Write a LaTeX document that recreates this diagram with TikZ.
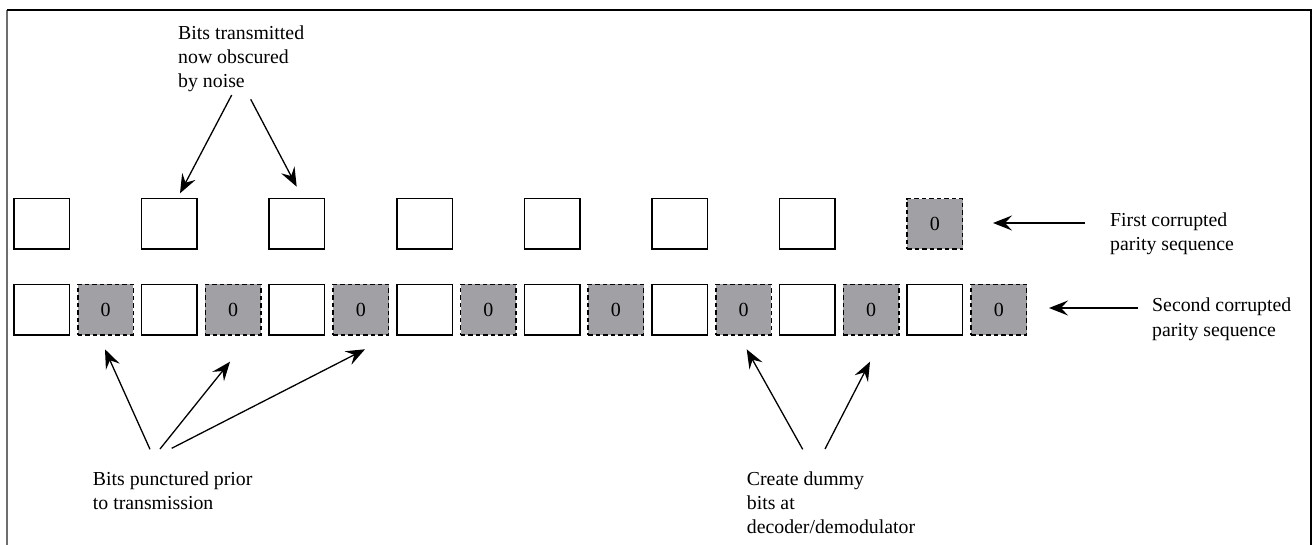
\documentclass[tikz,border=0pt]{standalone}
\usepackage{fontspec}
\setmainfont{Liberation Serif}
\usetikzlibrary{arrows.meta}
\definecolor{boxgray}{RGB}{161,160,165}
\definecolor{framegray}{RGB}{110,110,110}
\tikzset{
  bitbox/.style={draw=black, line width=1.5bp, minimum width=55.5bp, minimum height=50.5bp, inner sep=0pt, fill=white},
  zerobox/.style={bitbox, fill=boxgray, dash pattern=on 4.5bp off 3bp, font=\fontsize{20bp}{24bp}\selectfont},
  lbl/.style={anchor=north west, align=left, inner sep=0pt, font=\fontsize{19.8bp}{24.3bp}\selectfont},
  arr/.style={-{Stealth[length=19bp,width=15bp,inset=7bp]}, line width=1.3bp},
}
\begin{document}
\begin{tikzpicture}[x=1bp,y=-1bp]
\useasboundingbox (0,0) rectangle (1313,545);
% frame
\draw[framegray, line width=1.8bp] (7,545) -- (7,10);
\draw[black, line width=1.5bp] (7,10) -- (1311,10) -- (1311,545);
% bottom row
\foreach \i in {0,...,15}{
  \pgfmathsetmacro{\cx}{14+63.8*\i+27.75}
  \ifodd\i
    \node[zerobox] (b\i) at (\cx,309.7) {0};
  \else
    \node[bitbox] (b\i) at (\cx,309.7) {};
  \fi
}
% top row
\foreach \i in {0,2,...,12}{
  \pgfmathsetmacro{\cx}{14+63.8*\i+27.75}
  \node[bitbox] (t\i) at (\cx,223.8) {};
}
\node[zerobox] (t14) at (14+63.8*14+27.75,223.8) {0};
% labels
\node[lbl] (noise) at (178,25.4) {Bits transmitted\\now obscured\\by noise};
\node[lbl] (first) at (1110,212.4) {First corrupted\\parity sequence};
\node[lbl] (second) at (1152,298) {Second corrupted\\parity sequence};
\node[lbl] (punct) at (92.7,471.4) {Bits punctured prior\\to transmission};
\node[lbl] (dummy) at (746.7,471.4) {Create dummy\\bits at\\decoder/demodulator};
% arrow coordinates
\coordinate (n1s) at (231.7,95);   \coordinate (n1e) at (180,193.3);
\coordinate (n2s) at (250.7,99.3); \coordinate (n2e) at (296.7,186.7);
\coordinate (f1s) at (1085,223);   \coordinate (f1e) at (993,223);
\coordinate (s1s) at (1138,308);   \coordinate (s1e) at (1049,308);
\coordinate (p1s) at (150,449.3);  \coordinate (p1e) at (105,349.3);
\coordinate (p2s) at (160,449);    \coordinate (p2e) at (230,361.7);
\coordinate (p3s) at (171.7,448.3);\coordinate (p3e) at (365,349.3);
\coordinate (d1s) at (802.7,449.3);\coordinate (d1e) at (746.7,349.3);
\coordinate (d2s) at (825,449);    \coordinate (d2e) at (870,361.7);
\draw[arr] (n1s) -- (n1e);
\draw[arr] (n2s) -- (n2e);
\draw[arr] (f1s) -- (f1e);
\draw[arr] (s1s) -- (s1e);
\draw[arr] (p1s) -- (p1e);
\draw[arr] (p2s) -- (p2e);
\draw[arr] (p3s) -- (p3e);
\draw[arr] (d1s) -- (d1e);
\draw[arr] (d2s) -- (d2e);
\end{tikzpicture}
\end{document}
